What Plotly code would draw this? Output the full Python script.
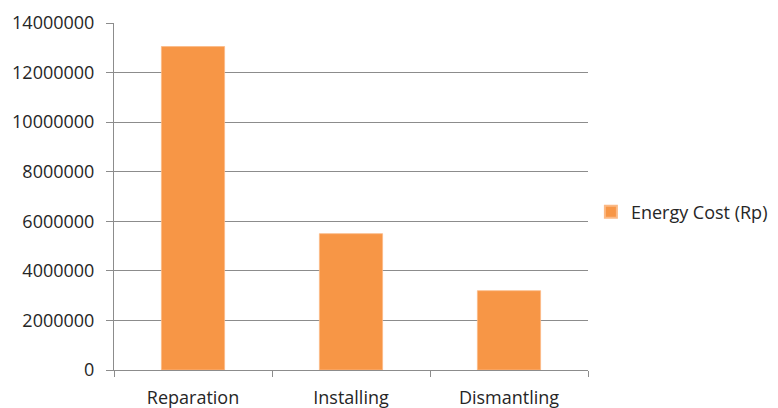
import plotly.graph_objects as go

categories = ["Reparation", "Installing", "Dismantling"]
energy_cost = [13050000, 5500000, 3200000]
series_name = "Energy Cost (Rp)"
y_ticks = [0, 2000000, 4000000, 6000000, 8000000, 10000000, 12000000, 14000000]

font_family = "Open Sans, Liberation Sans, sans-serif"
text_color = "#262626"
grid_color = "#8c8c8c"

fig = go.Figure()
fig.add_trace(go.Bar(
    x=categories, y=energy_cost, name=series_name,
    marker=dict(color="#F79646", line=dict(color="#FBB985", width=0.8)),
    showlegend=True,
))

fig.update_layout(
    width=770, height=400,
    margin=dict(l=106, r=190, t=15, b=38),
    paper_bgcolor="white", plot_bgcolor="white",
    bargap=0.6,
    font=dict(family=font_family, size=18, color=text_color),
    showlegend=True,
    legend=dict(x=0.757, xanchor="left", xref="container",
                y=0.49, yanchor="middle", yref="container",
                font=dict(size=18, color=text_color), itemsizing="constant",
                bgcolor="rgba(0,0,0,0)"),
)
fig.update_xaxes(
    automargin=False,
    showline=True, linecolor=grid_color, linewidth=1,
    ticks="outside", ticklen=6, tickcolor=grid_color,
    tickson="boundaries", showgrid=False,
    ticklabelstandoff=11,
    tickfont=dict(size=18, color=text_color),
)
fig.update_yaxes(
    automargin=False,
    range=[0, 14000000], tickvals=y_ticks,
    ticktext=[str(v) for v in y_ticks],
    showgrid=True, gridcolor=grid_color, gridwidth=1,
    showline=True, linecolor=grid_color, linewidth=1,
    ticks="outside", ticklen=7, tickcolor=grid_color,
    ticklabelstandoff=8,
    tickfont=dict(size=18, color=text_color),
    zeroline=False,
)

fig.write_html("out.html")
